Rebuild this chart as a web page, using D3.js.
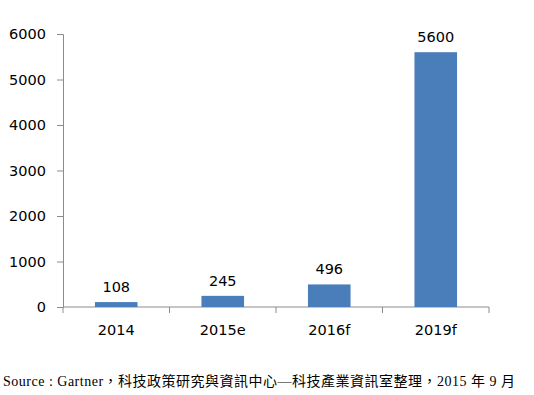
<!DOCTYPE html>
<html>
<head>
<meta charset="utf-8">
<script src="https://cdn.jsdelivr.net/npm/d3@7"></script>
<style>
  body { margin: 0; background: #fff; }
  text { font-family: "DejaVu Sans", sans-serif; }
</style>
</head>
<body>
<svg id="chart" width="534" height="395"></svg>
<script>
const categories = ["2014", "2015e", "2016f", "2019f"]
const values = [108, 245, 496, 5600]
const yTicks = [0, 1000, 2000, 3000, 4000, 5000, 6000]
const sourceText = "Source : Gartner，科技政策研究與資訊中心—科技產業資訊室整理，2015 年 9 月"

const svg = d3.select("#chart")
const mLeft = 63, mRight = 489, mTop = 34, mBottom = 307

const x = d3.scaleBand().domain(categories).range([mLeft, mRight]).paddingInner(0.6).paddingOuter(0.3)
const xOuter = d3.scaleBand().domain(categories).range([mLeft, mRight])
const y = d3.scaleLinear().domain([0, 6000]).range([mBottom, mTop])

// y axis
const yAxis = svg.append("g")
  .attr("transform", `translate(${mLeft},0)`)
  .call(d3.axisLeft(y).tickValues(yTicks).tickSize(6).tickPadding(11).tickFormat(d3.format("d")))
yAxis.select(".domain").attr("stroke", "#8c8c8c")
yAxis.selectAll(".tick line").attr("stroke", "#8c8c8c")
yAxis.selectAll("text").attr("font-size", 14.5).attr("fill", "#000")
  .style("font-family", "DejaVu Sans, sans-serif")

// x axis line with ticks at category boundaries
svg.append("line")
  .attr("x1", mLeft).attr("x2", mRight).attr("y1", mBottom).attr("y2", mBottom)
  .attr("stroke", "#8c8c8c")
const bounds = categories.map(c => xOuter(c)).concat([mRight])
svg.selectAll(".xtick").data(bounds).enter().append("line")
  .attr("x1", d => d).attr("x2", d => d)
  .attr("y1", mBottom).attr("y2", mBottom + 6)
  .attr("stroke", "#8c8c8c")
svg.selectAll(".xlabel").data(categories).enter().append("text")
  .attr("x", d => xOuter(d) + xOuter.bandwidth() / 2)
  .attr("y", 335)
  .attr("text-anchor", "middle")
  .attr("font-size", 14.5)
  .text(d => d)

// bars
svg.selectAll(".bar").data(values).enter().append("rect")
  .attr("x", (d, i) => x(categories[i]))
  .attr("width", x.bandwidth())
  .attr("y", d => y(d))
  .attr("height", d => mBottom - y(d))
  .attr("fill", "#4a7ebb")

svg.selectAll(".val").data(values).enter().append("text")
  .attr("x", (d, i) => x(categories[i]) + x.bandwidth() / 2)
  .attr("y", d => y(d) - 10)
  .attr("text-anchor", "middle")
  .attr("font-size", 14.5)
  .text(d => d)

svg.append("text")
  .attr("x", 3).attr("y", 386)
  .attr("font-size", 14)
  .attr("textLength", 512)
  .attr("lengthAdjust", "spacing")
  .style("font-family", "'Liberation Serif', 'Noto Sans CJK TC', serif")
  .text(sourceText)
</script>
</body>
</html>
